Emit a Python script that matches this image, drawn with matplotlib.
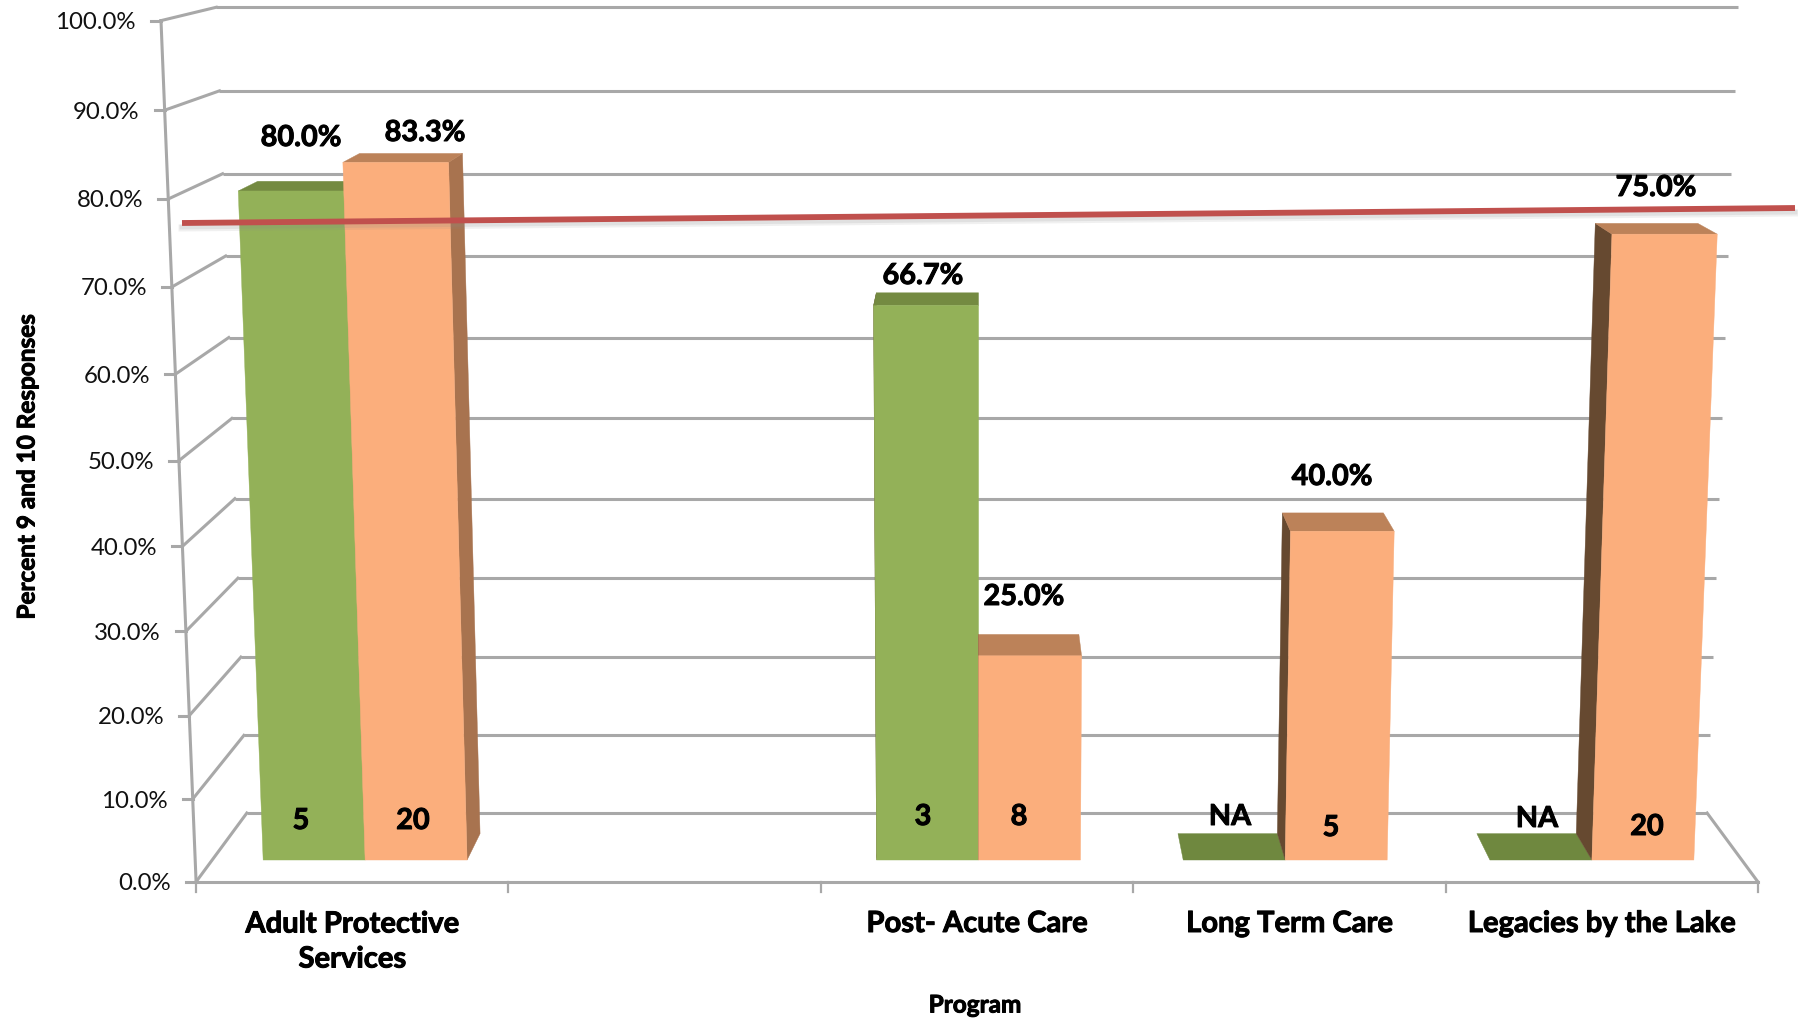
import numpy as np
import matplotlib
matplotlib.use("Agg")
import matplotlib.pyplot as plt
import matplotlib.patheffects as pe
from matplotlib.patches import Polygon

# chart values, one entry per program slot (second slot is left empty on purpose)
programs = ["Adult Protective\nServices", "", "Post- Acute Care", "Long Term Care", "Legacies by the Lake"]
green_pct = [80.0, None, 66.7, 0.0, 0.0]
orange_pct = [83.3, None, 25.0, 40.0, 75.0]
green_labels = ["80.0%", "", "66.7%", "NA", "NA"]
orange_labels = ["83.3%", "", "25.0%", "40.0%", "75.0%"]
green_counts = ["5", "", "3", "", ""]
orange_counts = ["20", "", "8", "5", "20"]
y_ticks = [0, 10, 20, 30, 40, 50, 60, 70, 80, 90, 100]

# label anchors, these were placed by hand on the slide
green_label_xy = [(301, 138), None, (923, 276), (1230, 817), (1537, 819)]
orange_label_xy = [(425, 133), None, (1024, 597), (1332, 477), (1656, 188)]
green_count_xy = [(301, 821), None, (923, 817), None, None]
orange_count_xy = [(413, 821), None, (1019, 817), (1331, 828), (1647, 827)]

# hand drawn benchmark line, slightly tilted
benchmark_x = [182, 1795]
benchmark_y = [223, 208]

# perspective constants of the 3d box
S = 1798 / 1568
CX = 852
SLOT = 272.4
PERSP_Z = 0.0695
PERSP_V = -0.043
Y_BASE = 769
Y_V = -751.8
Y_Z = -10.7
BAR_Z = (0.3025, 0.686)
BAR_SPREAD = 1.0025

GRID = "#a8a8a8"
GREEN_FRONT, GREEN_TOP = "#93b158", "#748a41"
ORANGE_FRONT, ORANGE_TOP = "#fbae7c", "#bc8259"
ORANGE_RIGHT, ORANGE_LEFT = "#a8734f", "#664930"
FLAT_GREEN = "#6f883f"
HEAVY = [pe.withStroke(linewidth=0.7, foreground="black")]


def project(u, pct, z):
    # slot position, percent and depth to pixel position
    v = pct / 100
    w = 1 + PERSP_Z * z + PERSP_V * v
    x = CX + (u - 2.5) * SLOT / w
    y = (Y_BASE + Y_V * v + Y_Z * z) / w
    return x * S, y * S


def face(ax, pts, color, zorder):
    xy = [project(*p) for p in pts]
    ax.add_patch(Polygon(xy, closed=True, facecolor=color, edgecolor=color, lw=0.3, zorder=zorder))


def draw_bar(ax, u0, u1, pct, front, top, zorder):
    z0, z1 = BAR_Z
    if pct == 0:
        # NA programs only show the floor of the bar
        face(ax, [(u0, 0, z0), (u1, 0, z0), (u1, 0, z1), (u0, 0, z1)], FLAT_GREEN, zorder)
        return
    # side faces first, the front one hides whichever is out of view
    side = ORANGE_RIGHT if u1 < 2.5 else ORANGE_LEFT
    edge = u1 if u1 < 2.5 else u0
    face(ax, [(edge, 0, z0), (edge, pct, z0), (edge, pct, z1), (edge, 0, z1)], side, zorder)
    face(ax, [(u0, pct, z0), (u1, pct, z0), (u1, pct, z1), (u0, pct, z1)], top, zorder)
    face(ax, [(u0, 0, z0), (u1, 0, z0), (u1, pct, z0), (u0, pct, z0)], front, zorder + 0.1)


plt.rcParams["font.family"] = ["Lato", "DejaVu Sans"]
fig = plt.figure(figsize=(17.98, 10.21), dpi=100)
ax = fig.add_axes([0, 0, 1, 1])
ax.set_xlim(0, 1798)
ax.set_ylim(1021, 0)
ax.axis("off")

# back wall and left wall gridlines
for t in y_ticks:
    bl = project(0, t, 1)
    br = project(5, t, 1)
    fl = project(0, t, 0)
    ax.plot([bl[0], br[0]], [bl[1], br[1]], color=GRID, lw=2.2, zorder=1, solid_capstyle="butt")
    ax.plot([fl[0], bl[0]], [fl[1], bl[1]], color=GRID, lw=2.2, zorder=1)
    ax.plot([fl[0] - 10, fl[0]], [fl[1], fl[1]], color=GRID, lw=2.2, zorder=1)
    ax.text(fl[0] - 25, fl[1] + 2, "%.1f%%" % t, ha="right", va="center", fontsize=17.3, color="#111111")

# front axis lines and floor
p0 = project(0, 0, 0)
p1 = project(0, 100, 0)
ax.plot([p0[0], p1[0]], [p0[1], p1[1]], color=GRID, lw=2.2, zorder=1)
pr = project(5, 0, 0)
ax.plot([p0[0], pr[0]], [p0[1], pr[1]], color=GRID, lw=2.2, zorder=1)
pb = project(5, 0, 1)
ax.plot([pr[0], pb[0]], [pr[1], pb[1]], color=GRID, lw=2.2, zorder=1)
for k in range(6):
    tx, ty = project(k, 0, 0)
    ax.plot([tx, tx], [ty, ty + 10], color=GRID, lw=1.6, zorder=1)

# bars, green before orange so the shared edge stays clean
for i in range(len(programs)):
    if orange_pct[i] is None:
        continue
    base = i * BAR_SPREAD
    draw_bar(ax, base + 1 / 6, base + 1 / 2, green_pct[i], GREEN_FRONT, GREEN_TOP, 2)
    draw_bar(ax, base + 1 / 2, base + 5 / 6, orange_pct[i], ORANGE_FRONT, ORANGE_TOP, 3)

# benchmark line with its soft shadow
bx = np.array(benchmark_x)
by = np.array(benchmark_y)
ax.plot(bx, by + 5, color="#8a8a8a", lw=5, alpha=0.12, zorder=5)
ax.plot(bx, by + 4, color="#8a8a8a", lw=3.5, alpha=0.15, zorder=5)
ax.plot(bx, by, color="#c0504d", lw=4.2, zorder=6, solid_capstyle="butt")

# value and count labels
for labels, xys in [(green_labels, green_label_xy), (orange_labels, orange_label_xy),
                    (green_counts, green_count_xy), (orange_counts, orange_count_xy)]:
    for txt, xy in zip(labels, xys):
        if txt and xy:
            ax.text(xy[0], xy[1], txt, ha="center", va="center", fontsize=20.8, fontweight="bold",
                    color="black", zorder=7, path_effects=HEAVY)

# program labels under the floor
for i, name in enumerate(programs):
    if not name:
        continue
    label_y = 942 if "\n" in name else 924
    ax.text(project(i + 0.5, 0, 0)[0], label_y, name, ha="center", va="center", fontsize=21,
            fontweight="bold", color="black", linespacing=1.43, path_effects=HEAVY)

ax.text(27, 467, "Percent 9 and 10 Responses", rotation=90, ha="center", va="center",
        fontsize=17.5, fontweight="bold", color="black", path_effects=HEAVY)
ax.text(975, 1005, "Program", ha="center", va="center", fontsize=17.5, fontweight="bold",
        color="black", path_effects=HEAVY)

fig.savefig("out.png", dpi=100, facecolor="white")
